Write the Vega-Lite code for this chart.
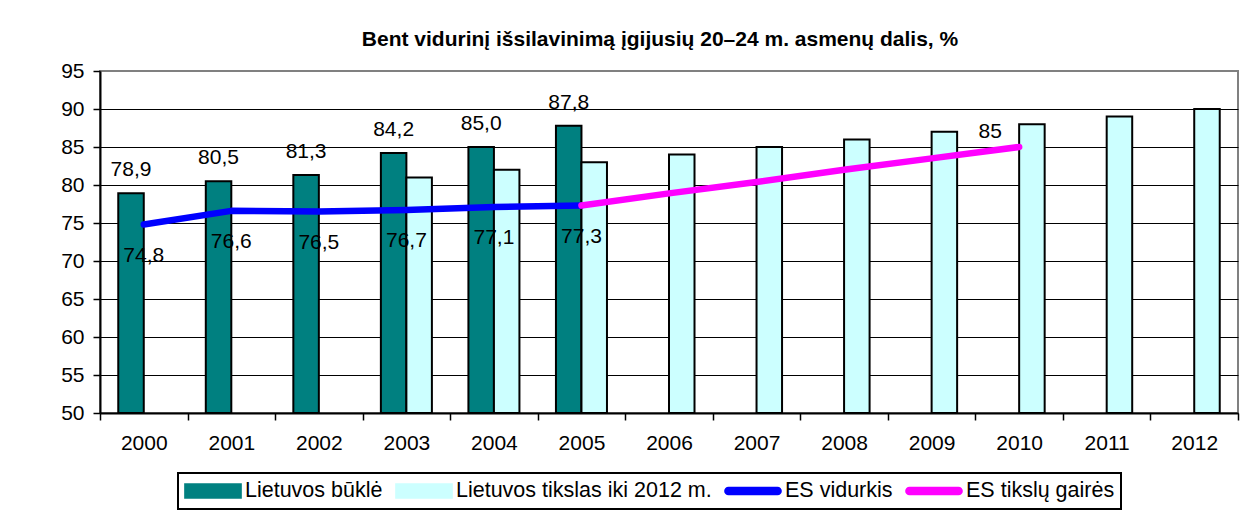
{
  "$schema": "https://vega.github.io/schema/vega-lite/v6.json",
  "width": 1138,
  "height": 342,
  "autosize": {"type": "none"},
  "padding": {"left": 100, "top": 71, "right": 15, "bottom": 98},
  "background": "white",
  "title": {
    "text": "Bent vidurinį išsilavinimą įgijusių 20–24 m. asmenų dalis, %",
    "fontSize": 21,
    "fontWeight": "bold",
    "font": "Liberation Sans",
    "color": "black",
    "anchor": "middle",
    "dx": -9,
    "dy": 21,
    "offset": 14,
    "baseline": "alphabetic"
  },
  "data": {
    "values": [
      {"year": "2000", "series": "Lietuvos būklė", "value": 78.9},
      {"year": "2001", "series": "Lietuvos būklė", "value": 80.5},
      {"year": "2002", "series": "Lietuvos būklė", "value": 81.3},
      {"year": "2003", "series": "Lietuvos būklė", "value": 84.2},
      {"year": "2004", "series": "Lietuvos būklė", "value": 85.0},
      {"year": "2005", "series": "Lietuvos būklė", "value": 87.8},
      {"year": "2003", "series": "Lietuvos tikslas iki 2012 m.", "value": 81},
      {"year": "2004", "series": "Lietuvos tikslas iki 2012 m.", "value": 82},
      {"year": "2005", "series": "Lietuvos tikslas iki 2012 m.", "value": 83},
      {"year": "2006", "series": "Lietuvos tikslas iki 2012 m.", "value": 84},
      {"year": "2007", "series": "Lietuvos tikslas iki 2012 m.", "value": 85},
      {"year": "2008", "series": "Lietuvos tikslas iki 2012 m.", "value": 86},
      {"year": "2009", "series": "Lietuvos tikslas iki 2012 m.", "value": 87},
      {"year": "2010", "series": "Lietuvos tikslas iki 2012 m.", "value": 88},
      {"year": "2011", "series": "Lietuvos tikslas iki 2012 m.", "value": 89},
      {"year": "2012", "series": "Lietuvos tikslas iki 2012 m.", "value": 90},
      {"year": "2000", "series": "ES vidurkis", "value": 74.8},
      {"year": "2001", "series": "ES vidurkis", "value": 76.6},
      {"year": "2002", "series": "ES vidurkis", "value": 76.5},
      {"year": "2003", "series": "ES vidurkis", "value": 76.7},
      {"year": "2004", "series": "ES vidurkis", "value": 77.1},
      {"year": "2005", "series": "ES vidurkis", "value": 77.3},
      {"year": "2005", "series": "ES tikslų gairės", "value": 77.3},
      {"year": "2006", "series": "ES tikslų gairės", "value": 78.9},
      {"year": "2007", "series": "ES tikslų gairės", "value": 80.4},
      {"year": "2008", "series": "ES tikslų gairės", "value": 82.0},
      {"year": "2009", "series": "ES tikslų gairės", "value": 83.5},
      {"year": "2010", "series": "ES tikslų gairės", "value": 85}
    ]
  },
  "encoding": {
    "x": {
      "field": "year",
      "type": "nominal",
      "scale": {"paddingInner": 0, "paddingOuter": 0},
      "axis": {
        "title": null,
        "labelAngle": 0,
        "labelFontSize": 21,
        "labelColor": "black",
        "tickBand": "extent",
        "tickSize": 7,
        "tickWidth": 1.5,
        "tickColor": "black",
        "labelPadding": 12,
        "domainColor": "black",
        "domainWidth": 2,
        "grid": false
      }
    },
    "y": {
      "field": "value",
      "type": "quantitative",
      "scale": {"domain": [50, 95], "zero": false, "nice": false},
      "axis": {
        "title": null,
        "values": [50, 55, 60, 65, 70, 75, 80, 85, 90, 95],
        "labelFontSize": 21,
        "labelColor": "black",
        "tickColor": "black",
        "tickSize": 7,
        "tickWidth": 1.5,
        "labelPadding": 9,
        "domainColor": "black",
        "domainWidth": 2,
        "grid": true,
        "gridColor": {"condition": {"test": "datum.value === 95", "value": "#808080"}, "value": "black"},
        "gridWidth": 1.2,
        "gridOpacity": 1
      }
    }
  },
  "layer": [
    {
      "transform": [{"filter": "datum.series === 'Lietuvos būklė' || datum.series === 'Lietuvos tikslas iki 2012 m.'"}],
      "mark": {"type": "bar", "stroke": "black", "strokeWidth": 2, "opacity": 1},
      "encoding": {
        "y2": {"datum": 50},
        "xOffset": {
          "field": "series",
          "scale": {"domain": ["Lietuvos būklė", "Lietuvos tikslas iki 2012 m."], "paddingInner": 0, "paddingOuter": 0.7157}
        },
        "color": {
          "field": "series",
          "type": "nominal",
          "scale": {
            "domain": ["Lietuvos būklė", "Lietuvos tikslas iki 2012 m.", "ES vidurkis", "ES tikslų gairės"],
            "range": ["#008080", "#CCFFFF", "#0000FF", "#FF00FF"]
          },
          "legend": {
            "title": null,
            "orient": "none",
            "legendX": 78,
            "legendY": 402,
            "direction": "horizontal",
            "columns": 4,
            "padding": 6,
            "strokeColor": "black",
            "fillColor": "white",
            "labelFontSize": 21.5,
            "labelColor": "black",
            "labelLimit": 400,
            "labelOffset": 3,
            "columnPadding": 12,
            "symbolSize": 3100,
            "clipHeight": 24,
            "encoding": {
              "legend": {"strokeWidth": {"value": 2}},
              "symbols": {
                "shape": {"value": {"expr": "(datum.value === 'ES vidurkis' || datum.value === 'ES tikslų gairės') ? 'M-0.88,-0.12H0.88A0.12,0.12 0 0 1 0.88,0.12H-0.88A0.12,0.12 0 0 1 -0.88,-0.12Z' : 'M-1,-0.24H1V0.24H-1Z'"}},
                "fill": {"value": {"expr": "datum.value === 'Lietuvos būklė' ? '#008080' : (datum.value === 'Lietuvos tikslas iki 2012 m.' ? '#CCFFFF' : (datum.value === 'ES vidurkis' ? '#0000FF' : '#FF00FF'))"}},
                "stroke": {"value": {"expr": "(datum.value === 'ES vidurkis' || datum.value === 'ES tikslų gairės') ? 'transparent' : 'black'"}},
                "strokeWidth": {"value": 2},
                "opacity": {"value": 1},
                "fillOpacity": {"value": 1},
                "strokeOpacity": {"value": 1}
              }
            }
          }
        }
      }
    },
    {
      "transform": [{"filter": "datum.series === 'ES vidurkis' || datum.series === 'ES tikslų gairės'"}],
      "mark": {"type": "line", "strokeWidth": 6.5, "strokeCap": "round", "strokeJoin": "round"},
      "encoding": {
        "color": {
          "field": "series",
          "type": "nominal",
          "legend": {
            "title": null,
            "orient": "none",
            "legendX": 78,
            "legendY": 402,
            "direction": "horizontal",
            "columns": 4,
            "padding": 6,
            "strokeColor": "black",
            "fillColor": "white",
            "labelFontSize": 21.5,
            "labelColor": "black",
            "labelLimit": 400,
            "labelOffset": 3,
            "columnPadding": 12,
            "symbolSize": 3100,
            "clipHeight": 24,
            "encoding": {
              "legend": {"strokeWidth": {"value": 2}},
              "symbols": {
                "shape": {"value": {"expr": "(datum.value === 'ES vidurkis' || datum.value === 'ES tikslų gairės') ? 'M-0.88,-0.12H0.88A0.12,0.12 0 0 1 0.88,0.12H-0.88A0.12,0.12 0 0 1 -0.88,-0.12Z' : 'M-1,-0.24H1V0.24H-1Z'"}},
                "fill": {"value": {"expr": "datum.value === 'Lietuvos būklė' ? '#008080' : (datum.value === 'Lietuvos tikslas iki 2012 m.' ? '#CCFFFF' : (datum.value === 'ES vidurkis' ? '#0000FF' : '#FF00FF'))"}},
                "stroke": {"value": {"expr": "(datum.value === 'ES vidurkis' || datum.value === 'ES tikslų gairės') ? 'transparent' : 'black'"}},
                "strokeWidth": {"value": 2},
                "opacity": {"value": 1},
                "fillOpacity": {"value": 1},
                "strokeOpacity": {"value": 1}
              }
            }
          }
        }
      }
    },
    {
      "transform": [{"filter": "datum.series === 'Lietuvos būklė'"}],
      "mark": {"type": "text", "fontSize": 21, "baseline": "middle", "dy": -23, "color": "black"},
      "encoding": {
        "xOffset": {"field": "series"},
        "text": {"field": "value", "type": "quantitative", "format": ".1f"}
      }
    },
    {
      "transform": [{"filter": "datum.series === 'ES vidurkis'"}],
      "mark": {"type": "text", "fontSize": 21, "baseline": "middle", "dy": 31, "color": "black"},
      "encoding": {
        "text": {"field": "value", "type": "quantitative", "format": ".1f"}
      }
    },
    {
      "transform": [{"filter": "datum.series === 'ES tikslų gairės' && datum.year === '2010'"}],
      "mark": {"type": "text", "fontSize": 21, "baseline": "middle", "dx": -29, "dy": -15, "color": "black"},
      "encoding": {
        "text": {"field": "value", "type": "quantitative", "format": "d"}
      }
    }
  ],
  "config": {
    "font": "Liberation Sans",
    "locale": {"number": {"decimal": ",", "thousands": " ", "grouping": [3], "currency": ["", " €"]}},
    "view": {"stroke": "#808080", "strokeWidth": 2}
  }
}
